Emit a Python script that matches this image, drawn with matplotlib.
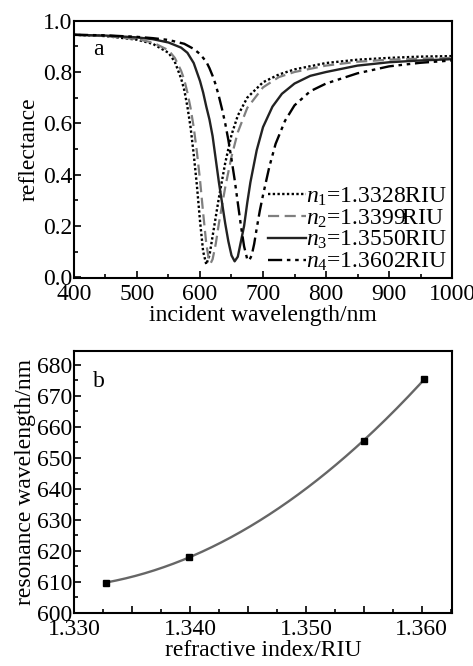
import numpy as np
import matplotlib
matplotlib.use("Agg")
import matplotlib.pyplot as plt
from matplotlib.ticker import MultipleLocator, FuncFormatter

plt.rcParams['font.family'] = ['Liberation Serif', 'DejaVu Serif']
plt.rcParams['mathtext.fontset'] = 'custom'
plt.rcParams['mathtext.rm'] = 'Liberation Serif'
plt.rcParams['mathtext.it'] = 'Liberation Serif:italic'
plt.rcParams['font.size'] = 17

# ---- panel a data: reflectance spectra ----
wl1 = [400, 450, 500, 525, 550, 560, 570, 575, 580, 585, 590, 595, 600, 605, 610, 615, 620, 625, 630,
       640, 650, 660, 675, 700, 725, 750, 800, 850, 900, 950, 1000]
r1 = [0.945, 0.940, 0.926, 0.910, 0.875, 0.840, 0.775, 0.73, 0.665, 0.585, 0.48, 0.36, 0.22, 0.10, 0.05,
      0.085, 0.16, 0.235, 0.31, 0.445, 0.555, 0.63, 0.70, 0.76, 0.79, 0.81, 0.835, 0.848, 0.855, 0.86, 0.862]

wl2 = [400, 450, 500, 525, 550, 560, 570, 575, 580, 585, 590, 595, 600, 605, 610, 614, 617, 620, 625, 630,
       635, 640, 650, 660, 675, 700, 725, 750, 800, 850, 900, 950, 1000]
r2 = [0.945, 0.940, 0.928, 0.915, 0.885, 0.855, 0.805, 0.77, 0.72, 0.66, 0.585, 0.49, 0.38, 0.25, 0.13,
      0.07, 0.055, 0.07, 0.13, 0.21, 0.28, 0.35, 0.47, 0.565, 0.66, 0.74, 0.78, 0.80, 0.825, 0.84, 0.848,
      0.852, 0.855]

wl3 = [400, 450, 500, 525, 550, 570, 580, 590, 595, 600, 605, 610, 615, 620, 625, 630, 635, 640, 645, 650,
       655, 660, 665, 670, 675, 680, 690, 700, 715, 730, 750, 775, 800, 850, 900, 950, 1000]
r3 = [0.945, 0.942, 0.935, 0.928, 0.915, 0.895, 0.875, 0.835, 0.80, 0.765, 0.72, 0.665, 0.615, 0.55, 0.46,
      0.37, 0.29, 0.21, 0.14, 0.085, 0.062, 0.08, 0.14, 0.20, 0.29, 0.37, 0.495, 0.585, 0.665, 0.715, 0.755,
      0.785, 0.800, 0.825, 0.838, 0.845, 0.85]

wl4 = [400, 450, 500, 525, 550, 575, 590, 600, 610, 615, 620, 625, 630, 635, 640, 645, 650, 655, 660, 665,
       670, 675, 678, 682, 686, 690, 695, 700, 710, 720, 735, 750, 775, 800, 850, 900, 950, 1000]
r4 = [0.945, 0.943, 0.937, 0.932, 0.925, 0.91, 0.89, 0.87, 0.84, 0.815, 0.785, 0.75, 0.705, 0.655, 0.60,
      0.535, 0.46, 0.38, 0.29, 0.20, 0.12, 0.07, 0.065, 0.085, 0.13, 0.19, 0.26, 0.32, 0.43, 0.52, 0.61,
      0.67, 0.725, 0.755, 0.795, 0.822, 0.836, 0.845]

labels_a = [r'$n_1$=1.3328RIU', r'$n_2$=1.3399RIU', r'$n_3$=1.3550RIU', r'$n_4$=1.3602RIU']

# ---- panel b data: resonance wavelength vs refractive index ----
n_idx = [1.3328, 1.3399, 1.3550, 1.3602]
res_wl = [609.8, 618.0, 655.6, 675.4]

fig = plt.figure(figsize=(4.73, 6.66), dpi=100)

W, H = 473, 666
ax1 = fig.add_axes([74 / W, (H - 278) / H, 378 / W, 257.3 / H])
ax2 = fig.add_axes([74 / W, (H - 613) / H, 378 / W, 262 / H])

ax1.plot(wl1, r1, color='black', lw=1.7, ls=(0, (1, 1)), label=labels_a[0])
ax1.plot(wl2, r2, color='#7f7f7f', lw=1.6, ls=(0, (5, 2.5)), label=labels_a[1])
ax1.plot(wl3, r3, color='#222222', lw=1.7, ls='-', label=labels_a[2])
ax1.plot(wl4, r4, color='black', lw=1.7, ls=(0, (6, 2, 1.5, 2, 1.5, 2)), label=labels_a[3])

ax1.set_xlim(400, 1000)
ax1.set_ylim(-0.003, 1.0)
ax1.xaxis.set_major_locator(MultipleLocator(100))
ax1.xaxis.set_minor_locator(MultipleLocator(50))
ax1.yaxis.set_major_locator(MultipleLocator(0.2))
ax1.yaxis.set_minor_locator(MultipleLocator(0.1))
ax1.yaxis.set_major_formatter(FuncFormatter(lambda v, p: f'{v:.1f}'))
ax1.set_xlabel('incident wavelength/nm', labelpad=0)
ax1.set_ylabel('reflectance', labelpad=3)
ax1.text(0.05, 0.89, 'a', transform=ax1.transAxes, fontsize=17, va='center', ha='left')
leg = ax1.legend(loc='lower right', frameon=False, handlelength=1.6, handletextpad=0.0,
                 labelspacing=-0.02, borderpad=0.0, borderaxespad=0.2, fontsize=17)

# fitted curve through resonance points
coef = np.polyfit(n_idx, res_wl, 2)
xf = np.linspace(min(n_idx), max(n_idx), 200)
ax2.plot(xf, np.polyval(coef, xf), color='#666666', lw=1.7)
ax2.plot(n_idx, res_wl, ls='none', marker='s', ms=5, color='black')

ax2.set_xlim(1.3300, 1.3626)
ax2.set_ylim(600, 684.5)
ax2.xaxis.set_major_locator(MultipleLocator(0.005))
ax2.xaxis.set_minor_locator(MultipleLocator(0.0025))


def fmt_x(v, p):
    k = round(v / 0.005)
    return f'{v:.3f}' if k % 2 == 0 else ''


ax2.xaxis.set_major_formatter(FuncFormatter(fmt_x))
ax2.yaxis.set_major_locator(MultipleLocator(10))
ax2.yaxis.set_minor_locator(MultipleLocator(5))
ax2.set_xlabel('refractive index/RIU', labelpad=0)
ax2.set_ylabel('resonance wavelength/nm', labelpad=1)
ax2.text(0.05, 0.885, 'b', transform=ax2.transAxes, fontsize=17, va='center', ha='left')

for ax in (ax1, ax2):
    for s in ax.spines.values():
        s.set_linewidth(1.5)
    ax.tick_params(which='both', direction='in', top=False, right=False, width=1.2,
                   labelsize=17)
    ax.tick_params(axis='y', which='both', pad=1)
    ax.tick_params(axis='x', which='both', pad=4)
    ax.tick_params(which='major', length=5)
    ax.tick_params(which='minor', length=3)

fig.savefig('out.png', dpi=100)
